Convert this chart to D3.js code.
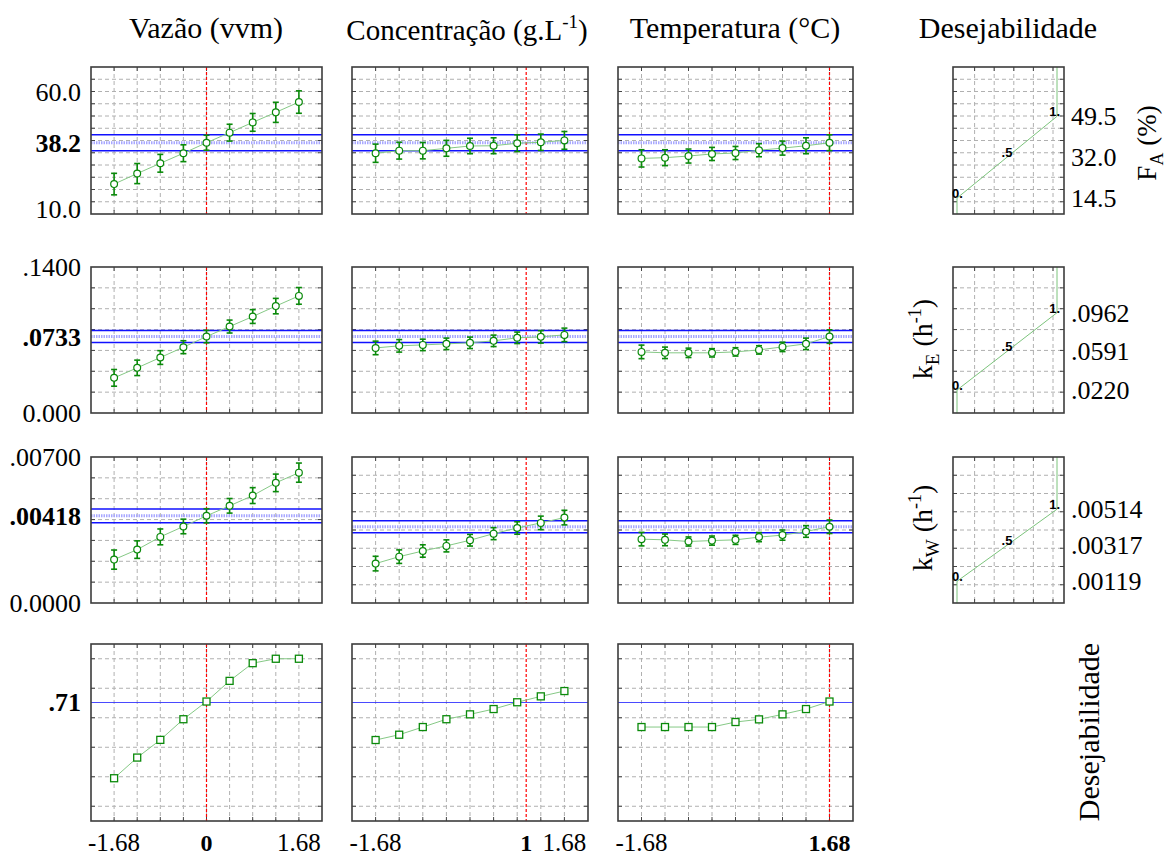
<!DOCTYPE html>
<html><head><meta charset="utf-8">
<script src="https://cdn.jsdelivr.net/npm/d3@7"></script>
<style>body{margin:0;background:#fff}</style>
</head><body>
<svg id="chart" width="1168" height="856"></svg>
<script>
// Coded factor levels used for every profile
const xLevels = [-1.68, -1.26, -0.84, -0.42, 0, 0.42, 0.84, 1.26, 1.68];
const xTickLabels = ["-1.68", "1.68"];
const factorTitles = ["Vazão (vvm)", "Concentração (g.L", "Temperatura (°C)"];
const currentX = [0, 1, 1.68];
const currentXLabels = ["0", "1", "1.68"];

// F_A (%) predicted profiles and confidence half-widths
const faVazao = [20.5, 25.0, 29.4, 33.7, 38.2, 42.5, 46.9, 51.2, 55.6];
const faVazaoErr = [4.6, 4.3, 3.8, 3.6, 3.2, 3.6, 3.8, 4.3, 4.8];
const faConc = [33.7, 34.8, 34.8, 35.8, 36.8, 36.9, 38.0, 38.4, 39.2];
const faConcErr = [3.9, 3.6, 3.5, 3.4, 3.3, 3.4, 3.6, 3.5, 3.8];
const faTemp = [31.5, 31.8, 32.5, 33.4, 33.8, 35.0, 35.9, 36.9, 38.2];
const faTempErr = [3.7, 3.4, 3.0, 2.8, 2.8, 2.8, 3.0, 3.4, 3.4];

// k_E (h-1)
const keVazao = [0.0337, 0.0433, 0.0532, 0.0631, 0.0733, 0.0829, 0.0925, 0.1025, 0.1123];
const keVazaoErr = [0.0080, 0.0074, 0.0066, 0.0062, 0.0060, 0.0062, 0.0066, 0.0074, 0.0080];
const keConc = [0.0624, 0.0644, 0.0653, 0.0663, 0.0673, 0.0692, 0.0721, 0.0730, 0.0749];
const keConcErr = [0.0065, 0.0060, 0.0055, 0.0055, 0.0055, 0.0055, 0.0055, 0.0060, 0.0065];
const keTemp = [0.0586, 0.0577, 0.0577, 0.0577, 0.0586, 0.0605, 0.0634, 0.0663, 0.0733];
const keTempErr = [0.0065, 0.0055, 0.0045, 0.0040, 0.0040, 0.0040, 0.0045, 0.0055, 0.0065];

// k_W (h-1)
const kwVazao = [0.00208, 0.00256, 0.00317, 0.00367, 0.00418, 0.00466, 0.00515, 0.00576, 0.00625];
const kwVazaoErr = [0.00046, 0.00042, 0.00038, 0.00035, 0.00034, 0.00035, 0.00038, 0.00042, 0.00046];
const kwConc = [0.00216, 0.00254, 0.00285, 0.00313, 0.00344, 0.00380, 0.00411, 0.00439, 0.00468];
const kwConcErr = [0.00040, 0.00037, 0.00034, 0.00033, 0.00032, 0.00033, 0.00034, 0.00037, 0.00040];
const kwTemp = [0.00350, 0.00346, 0.00337, 0.00342, 0.00346, 0.00361, 0.00372, 0.00392, 0.00418];
const kwTempErr = [0.00037, 0.00032, 0.00025, 0.00025, 0.00025, 0.00025, 0.00028, 0.00032, 0.00037];

// Overall desirability
const dVazao = [0.19, 0.33, 0.45, 0.59, 0.71, 0.85, 0.97, 1.0, 1.0];
const dConc = [0.449, 0.485, 0.537, 0.59, 0.623, 0.659, 0.705, 0.745, 0.781];
const dTemp = [0.537, 0.537, 0.537, 0.537, 0.571, 0.589, 0.623, 0.659, 0.71];

// Current responses at the chosen settings
const currentValues = [38.2, 0.0733, 0.00418, 0.71];
const currentLabels = ["38.2", ".0733", ".00418", ".71"];
const ciHalf = [3.4, 0.0058, 0.00033];

// Axis end labels of each response
const faAxis = [[60, "60.0"], [10, "10.0"]];
const keAxis = [[0.14, ".1400"], [0, "0.000"]];
const kwAxis = [[0.007, ".00700"], [0, "0.0000"]];

// Desirability function breakpoints: response at d = 0, .5, 1
const faDesir = [14.5, 32.0, 49.5];
const faDesirLabels = ["14.5", "32.0", "49.5"];
const keDesir = [0.0220, 0.0591, 0.0962];
const keDesirLabels = [".0220", ".0591", ".0962"];
const kwDesir = [0.00119, 0.00317, 0.00514];
const kwDesirLabels = [".00119", ".00317", ".00514"];

// ---- layout ----
const panelX = [[91, 322], [352, 588], [618, 853]];
const desirX = [953, 1064];
const rowY = [[67, 214], [267, 413], [457, 603], [644, 821]];
const serif = "'Liberation Serif','Times New Roman',serif";
const sans = "'Liberation Sans',Arial,sans-serif";

const rows = [
  { series: [faVazao, faConc, faTemp], errs: [faVazaoErr, faConcErr, faTempErr],
    domains: [[7.7, 70.6], [7.7, 70.6], [7.7, 70.6], [7.7, 70.6]], gridN: [12, 12, 12, 12],
    axis: faAxis, desir: faDesir, desirLabels: faDesirLabels },
  { series: [keVazao, keConc, keTemp], errs: [keVazaoErr, keConcErr, keTempErr],
    domains: [[0, 0.14], [0, 0.14], [0, 0.14], [0, 0.14]], gridN: [7, 7, 7, 7],
    axis: keAxis, desir: keDesir, desirLabels: keDesirLabels },
  { series: [kwVazao, kwConc, kwTemp], errs: [kwVazaoErr, kwConcErr, kwTempErr],
    domains: [[0, 0.007], [0, 0.008], [0, 0.008], [0, 0.008]], gridN: [7, 8, 8, 8],
    axis: kwAxis, desir: kwDesir, desirLabels: kwDesirLabels },
  { series: [dVazao, dConc, dTemp], errs: null,
    domains: [[-0.1, 1.1], [-0.1, 1.1], [-0.1, 1.1]], gridN: null,
    axis: [], desir: null }
];

const svg = d3.select("#chart");

function gridValues(domain, n) {
  return d3.range(1, n).map(k => domain[0] + (domain[1] - domain[0]) * k / n);
}

function frame(g, xs, ys, xGrid, yGrid) {
  const [x0, x1] = xs.range();
  const [y1, y0] = ys.range();
  g.append("rect").attr("x", x0).attr("y", y0).attr("width", x1 - x0).attr("height", y1 - y0)
    .attr("fill", "#fff");
  g.selectAll(".gx").data(xGrid).join("line")
    .attr("x1", d => xs(d)).attr("x2", d => xs(d)).attr("y1", y0).attr("y2", y1)
    .attr("stroke", "#b0b0b0").attr("stroke-dasharray", "4,3").attr("stroke-width", 1);
  g.selectAll(".gy").data(yGrid).join("line")
    .attr("y1", d => ys(d)).attr("y2", d => ys(d)).attr("x1", x0).attr("x2", x1)
    .attr("stroke", "#b0b0b0").attr("stroke-dasharray", "4,3").attr("stroke-width", 1);
  // inner tick marks on all four sides
  const tk = g.append("g").attr("stroke", "#444").attr("stroke-width", 1);
  yGrid.forEach(v => {
    tk.append("line").attr("x1", x0).attr("x2", x0 + 4).attr("y1", ys(v)).attr("y2", ys(v));
    tk.append("line").attr("x1", x1 - 4).attr("x2", x1).attr("y1", ys(v)).attr("y2", ys(v));
  });
  xGrid.forEach(v => {
    tk.append("line").attr("y1", y0).attr("y2", y0 + 4).attr("x1", xs(v)).attr("x2", xs(v));
    tk.append("line").attr("y1", y1 - 4).attr("y2", y1).attr("x1", xs(v)).attr("x2", xs(v));
  });
}

function border(g, xs, ys) {
  const [x0, x1] = xs.range();
  const [y1, y0] = ys.range();
  g.append("rect").attr("x", x0).attr("y", y0).attr("width", x1 - x0).attr("height", y1 - y0)
    .attr("fill", "none").attr("stroke", "#3c3c3c").attr("stroke-width", 1.6);
}

rows.forEach((row, r) => {
  for (let c = 0; c < 3; c++) {
    const g = svg.append("g");
    const xs = d3.scaleLinear().domain([-2.1, 2.1]).range(panelX[c]);
    const ys = d3.scaleLinear().domain(row.domains[c]).range([rowY[r][1], rowY[r][0]]);
    const yGrid = r === 3 ? [0, 0.2, 0.4, 0.6, 0.8, 1.0] : gridValues(row.domains[c], row.gridN[c]);
    frame(g, xs, ys, xLevels, yGrid);
    const [x0, x1] = xs.range();

    // current value reference lines
    if (r < 3) {
      g.append("line").attr("x1", x0).attr("x2", x1)
        .attr("y1", ys(currentValues[r])).attr("y2", ys(currentValues[r]))
        .attr("stroke", "#a8a8ff").attr("stroke-width", 3).attr("stroke-dasharray", "1.5,1");
      [currentValues[r] - ciHalf[r], currentValues[r] + ciHalf[r]].forEach(v => {
        g.append("line").attr("x1", x0).attr("x2", x1).attr("y1", ys(v)).attr("y2", ys(v))
          .attr("stroke", "#1010ff").attr("stroke-width", 1.5);
      });
    } else {
      g.append("line").attr("x1", x0).attr("x2", x1)
        .attr("y1", Math.round(ys(currentValues[r])) + 0.5).attr("y2", Math.round(ys(currentValues[r])) + 0.5)
        .attr("stroke", "#2a2aff").attr("stroke-width", 1).attr("stroke-opacity", 0.85);
    }

    // current factor setting
    g.append("line").attr("x1", xs(currentX[c])).attr("x2", xs(currentX[c]))
      .attr("y1", rowY[r][0]).attr("y2", rowY[r][1])
      .attr("stroke", "#ff0000").attr("stroke-width", 1.2).attr("stroke-dasharray", "3,2");

    const vals = row.series[c];
    const pts = xLevels.map((x, i) => ({ x, y: vals[i], e: row.errs ? row.errs[c][i] : 0 }));
    g.append("path").datum(pts)
      .attr("d", d3.line().x(d => xs(d.x)).y(d => ys(d.y)))
      .attr("fill", "none").attr("stroke", "#86c986").attr("stroke-width", 1);

    if (row.errs) {
      const eb = g.append("g").attr("stroke", "#0a8a0a").attr("stroke-width", 1.6);
      pts.forEach(p => {
        const cx = xs(p.x), ya = ys(p.y - p.e), yb = ys(p.y + p.e);
        eb.append("line").attr("x1", cx).attr("x2", cx).attr("y1", ya).attr("y2", yb);
        eb.append("line").attr("x1", cx - 3).attr("x2", cx + 3).attr("y1", ya).attr("y2", ya);
        eb.append("line").attr("x1", cx - 3).attr("x2", cx + 3).attr("y1", yb).attr("y2", yb);
      });
      g.selectAll(".pt").data(pts).join("circle")
        .attr("cx", d => xs(d.x)).attr("cy", d => ys(d.y)).attr("r", 3.4)
        .attr("fill", "#fff").attr("stroke", "#0a8a0a").attr("stroke-width", 1.2);
    } else {
      g.selectAll(".pt").data(pts).join("rect")
        .attr("x", d => xs(d.x) - 3.5).attr("y", d => ys(d.y) - 3.5)
        .attr("width", 7).attr("height", 7)
        .attr("fill", "#fff").attr("stroke", "#0a8a0a").attr("stroke-width", 1.3);
    }
    border(g, xs, ys);

    // left response axis labels
    if (c === 0) {
      row.axis.forEach(([v, t]) => {
        svg.append("text").attr("x", 81).attr("y", ys(v)).attr("dy", "0.35em")
          .attr("text-anchor", "end").attr("font-family", serif).attr("font-size", 26)
          .text(t);
      });
      svg.append("text").attr("x", 81).attr("y", ys(currentValues[r])).attr("dy", "0.35em")
        .attr("text-anchor", "end").attr("font-family", serif).attr("font-size", 26)
        .attr("font-weight", "bold").text(currentLabels[r]);
    }

    // factor axis labels under the bottom row
    if (r === 3) {
      const ly = 851;
      const plain = [-1.68, 1.68].filter(v => v !== currentX[c]);
      plain.forEach(v => {
        svg.append("text").attr("x", xs(v)).attr("y", ly).attr("text-anchor", "middle")
          .attr("font-family", serif).attr("font-size", 25)
          .text(xTickLabels[v < 0 ? 0 : 1]);
      });
      svg.append("text").attr("x", xs(currentX[c])).attr("y", ly).attr("text-anchor", "middle")
        .attr("font-family", serif).attr("font-size", 24).attr("font-weight", "bold")
        .text(currentXLabels[c]);
    }
  }

  // desirability function panel
  if (row.desir) {
    const g = svg.append("g");
    const xs = d3.scaleLinear().domain([-0.04, 1.07]).range(desirX);
    const ys = d3.scaleLinear().domain(row.domains[3]).range([rowY[r][1], rowY[r][0]]);
    const dGrid = d3.range(1, 6).map(k => -0.02 + 0.196 * k);
    frame(g, xs, ys, dGrid, gridValues(row.domains[3], row.gridN[3]));
    const [lo, mid, hi] = row.desir;
    const dPts = [[0, row.domains[3][0]], [0, lo], [1, hi], [1, row.domains[3][1]]];
    g.append("path").datum(dPts)
      .attr("d", d3.line().x(d => xs(d[0])).y(d => ys(d[1])))
      .attr("fill", "none").attr("stroke", "#7cc47c").attr("stroke-width", 1);
    border(g, xs, ys);
    const lab = (x, y, t, anchor) => g.append("text").attr("x", x).attr("y", y)
      .attr("text-anchor", anchor).attr("font-family", sans).attr("font-weight", "bold")
      .attr("font-size", 13).text(t);
    lab(xs(0) - 5, ys(lo), "0.", "start");
    lab(xs(0.5), ys(mid), ".5", "middle");
    lab(xs(1) + 3, ys(hi), "1.", "end");
    row.desir.forEach((v, i) => {
      svg.append("text").attr("x", 1071).attr("y", ys(v)).attr("dy", "0.35em")
        .attr("font-family", serif).attr("font-size", 26).text(row.desirLabels[i]);
    });
  }
});

// column titles
const titleY = 38;
const titleX = [206, 467, 735, 1008];
svg.append("text").attr("x", titleX[0]).attr("y", titleY).attr("text-anchor", "middle")
  .attr("font-family", serif).attr("font-size", 30).text(factorTitles[0]);
const t2 = svg.append("text").attr("x", titleX[1]).attr("y", titleY + 2).attr("text-anchor", "middle")
  .attr("font-family", serif).attr("font-size", 29);
t2.append("tspan").text(factorTitles[1]);
t2.append("tspan").attr("dy", -12).attr("font-size", 19).text("-1");
t2.append("tspan").attr("dy", 12).text(")");
svg.append("text").attr("x", titleX[2]).attr("y", titleY).attr("text-anchor", "middle")
  .attr("font-family", serif).attr("font-size", 30).text(factorTitles[2]);
svg.append("text").attr("x", titleX[3]).attr("y", titleY).attr("text-anchor", "middle")
  .attr("font-family", serif).attr("font-size", 30).text("Desejabilidade");

// vertical response names
function vlabel(x, y, size, parts) {
  const t = svg.append("text").attr("transform", `translate(${x},${y}) rotate(-90)`)
    .attr("text-anchor", "middle").attr("font-family", serif).attr("font-size", size);
  parts.forEach(([s, dy, fs]) => {
    const sp = t.append("tspan").text(s);
    if (dy) sp.attr("dy", dy);
    if (fs) sp.attr("font-size", fs);
  });
}
vlabel(1156, 143, 27, [["F"], ["A", 7, 18], [" (%)", -7]]);
vlabel(932, 339, 28, [["k"], ["E", 7, 19], [" (h", -7], ["-1", -11, 18], [")", 11]]);
vlabel(932, 528, 28, [["k"], ["W", 7, 19], [" (h", -7], ["-1", -11, 18], [")", 11]]);
vlabel(1099, 732, 30, [["Desejabilidade"]]);
</script>
</body></html>
